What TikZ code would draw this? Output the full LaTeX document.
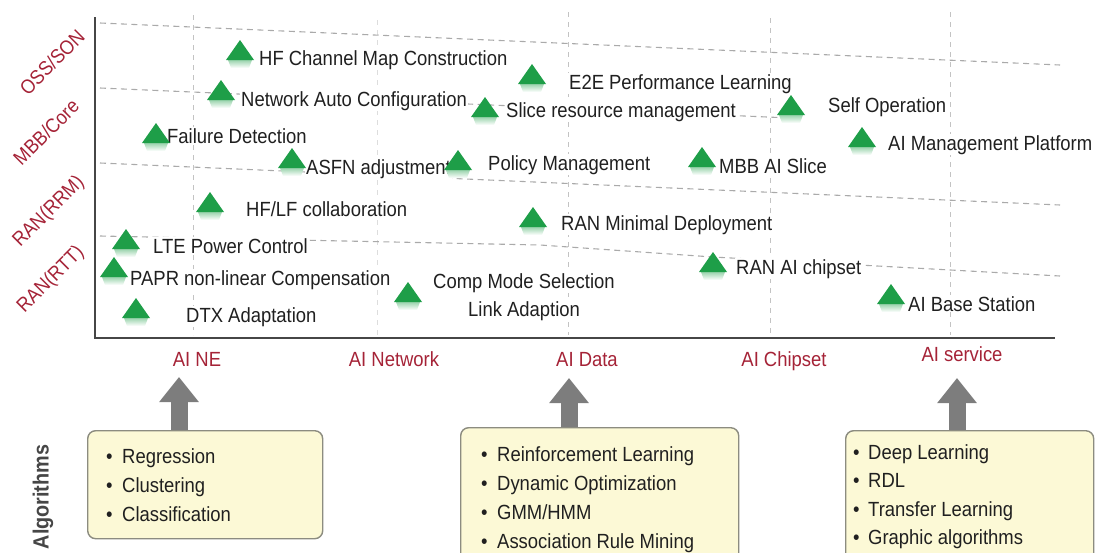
\documentclass[tikz,border=0pt]{standalone}
\usepackage{fontspec}
\setmainfont[FakeStretch=0.9]{Liberation Sans}
\usetikzlibrary{arrows.meta}
\definecolor{redlab}{RGB}{165,35,55}
\definecolor{txt}{RGB}{32,32,32}
\definecolor{gridc}{RGB}{170,170,170}
\definecolor{axisc}{RGB}{70,70,70}
\definecolor{mkgreen}{RGB}{30,158,72}
\definecolor{arrowc}{RGB}{125,125,125}
\definecolor{boxfill}{RGB}{252,249,214}
\definecolor{boxline}{RGB}{140,140,128}
% green triangle marker with a faded reflection; #1 = x of base centre, #2 = y of base
\newcommand\mk[2]{%
  \shade[top color=mkgreen!45!white, bottom color=white]
    ({#1-12},#2) -- ({#1+12},#2) -- ({#1+9},{#2+8}) -- ({#1-9},{#2+8}) -- cycle;
  \fill[mkgreen] ({#1-14},#2) -- (#1,{#2-20}) -- ({#1+14},#2) -- cycle;
}
\newcommand\txtfont{\fontsize{20.5}{22}\selectfont}
\begin{document}
\begin{tikzpicture}[x=1pt,y=-1pt,
  lab/.style={anchor=base west, inner sep=1pt, fill=white, text=txt, font=\txtfont},
  xlab/.style={anchor=base, inner sep=1pt, text=redlab, font=\txtfont},
  ylab/.style={rotate=45, inner sep=1pt, text=redlab,
    font=\fontsize{20}{22}\selectfont},
  item/.style={anchor=base west, inner sep=0pt, text=txt, font=\txtfont},
  box/.style={draw=boxline, line width=1.4pt, fill=boxfill, rounded corners=8pt,
    anchor=north west},
  griddash/.style={draw=gridc, line width=1.1pt, dash pattern=on 6pt off 4.5pt},
  gridv/.style={draw=gridc!70, line width=1pt, dash pattern=on 5pt off 5pt},
  axis/.style={draw=axisc, line width=2.6pt},
  bigarrow/.style={draw=arrowc, line width=17pt,
    -{Triangle[width=38pt,length=25pt]}},
]
\useasboundingbox (0,0) rectangle (1098,552);

% grid
\draw[gridv] (193,15) -- (193,335);
\draw[gridv, draw=gridc!40] (377,20) -- (377,335);
\draw[gridv] (568,12) -- (568,335);
\draw[gridv] (770,18) -- (770,335);
\draw[gridv] (950,12) -- (950,335);
\draw[griddash] (100,23) -- (1060,65);
\draw[griddash] (100,88) -- (790,118);
\draw[griddash] (100,163) -- (1060,205);
\draw[griddash] (100,236) -- (540,245) -- (713,257) -- (1060,276);

% axes
\draw[axis] (95,17) -- (95,338) -- (1055,338);

% row labels
\node[ylab] (ossson) at (52,62) {OSS/SON};
\node[ylab] (mbbcore) at (46,132) {MBB/Core};
\node[ylab] (ranrrm) at (49,212) {RAN(RRM)};
\node[ylab] (ranrtt) at (51,280) {RAN(RTT)};

% column labels
\node[xlab] (aine) at (197,366) {AI NE};
\node[xlab] (ainet) at (394,366) {AI Network};
\node[xlab] (aidata) at (587,366) {AI Data};
\node[xlab] (aichip) at (784,366) {AI Chipset};
\node[xlab] (aiserv) at (962,361) {AI service};

% feature labels
\node[lab] (f1) at (258,65) {HF Channel Map Construction};
\node[lab] (f2) at (568,89) {E2E Performance Learning};
\node[lab] (f3) at (240,106) {Network Auto Configuration};
\node[lab] (f4) at (505,117) {Slice resource management};
\node[lab] (f5) at (827,112) {Self Operation};
\node[lab] (f6) at (166,143) {Failure Detection};
\node[lab] (f7) at (887,150) {AI Management Platform};
\node[lab] (f8) at (305,174) {ASFN adjustment};
\node[lab] (f9) at (487,170) {Policy Management};
\node[lab] (f10) at (718,173) {MBB AI Slice};
\node[lab] (f11) at (245,216) {HF/LF collaboration};
\node[lab] (f12) at (560,230) {RAN Minimal Deployment};
\node[lab] (f13) at (152,253) {LTE Power Control};
\node[lab] (f14) at (735,274) {RAN AI chipset};
\node[lab] (f15) at (129,285) {PAPR non-linear Compensation};
\node[lab] (f16) at (432,288) {Comp Mode Selection};
\node[lab] (f17) at (467,316) {Link Adaption};
\node[lab] (f18) at (907,311) {AI Base Station};
\node[lab] (f19) at (185,322) {DTX Adaptation};

% markers
\mk{240}{60}
\mk{221}{100}
\mk{156}{143}
\mk{292}{168}
\mk{210}{212}
\mk{126}{249}
\mk{114}{277}
\mk{136}{318}
\mk{532}{84}
\mk{485}{117}
\mk{458}{170}
\mk{533}{227}
\mk{408}{302}
\mk{702}{167}
\mk{713}{272}
\mk{791}{115}
\mk{862}{147}
\mk{891}{304}

% algorithm boxes
\node[box, minimum width=235pt, minimum height=108pt] (box1) at (87,430) {};
\node[box, minimum width=278pt, minimum height=140pt] (box2) at (460,427) {};
\node[box, minimum width=248pt, minimum height=140pt] (box3) at (845,430) {};

\foreach \t [count=\i] in {Regression,Clustering,Classification}
  \node[item] (a\i) at (106,{463+29*(\i-1)}) {\makebox[16pt][l]{•}\t};
\foreach \t [count=\i] in {Reinforcement Learning,Dynamic Optimization,GMM/HMM,Association Rule Mining}
  \node[item] (b\i) at (481,{461+29*(\i-1)}) {\makebox[16pt][l]{•}\t};
\foreach \t [count=\i] in {Deep Learning,RDL,Transfer Learning,Graphic algorithms}
  \node[item] (c\i) at (853,{459+28.5*(\i-1)}) {\makebox[15pt][l]{•}\t};

% arrows from the boxes up to the columns
\coordinate (tip1) at (179,377);
\coordinate (tip2) at (569,378);
\coordinate (tip3) at (957,378);
\draw[bigarrow] (tip1 |- box1.north) -- (tip1);
\draw[bigarrow] (tip2 |- box2.north) -- (tip2);
\draw[bigarrow] (tip3 |- box3.north) -- (tip3);

% side title
\node[rotate=90, text=axisc, font=\fontsize{22}{24}\selectfont\bfseries] (algo) at (43,497) {Algorithms};
\end{tikzpicture}
\end{document}
